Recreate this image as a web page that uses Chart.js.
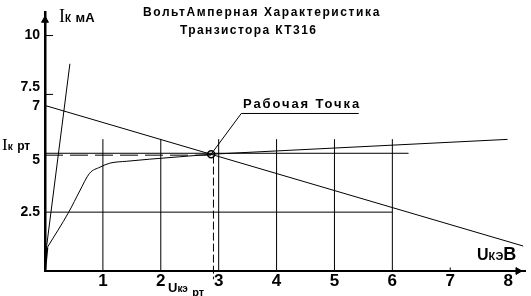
<!DOCTYPE html>
<html><head><meta charset="utf-8">
<script src="https://cdn.jsdelivr.net/npm/chart.js@4"></script>
<style>
html,body{margin:0;padding:0;background:#fff;}
#wrap{position:relative;width:531px;height:296px;overflow:hidden;background:#fff;}
canvas{position:absolute;left:0;top:0;}
.t{position:absolute;white-space:nowrap;font-family:"Liberation Sans",Arial,sans-serif;font-weight:bold;color:#000;line-height:1;}
.s{font-family:"Liberation Serif","Times New Roman",serif;font-weight:normal;}
</style></head><body>
<div id="wrap"><canvas id="c" width="531" height="296"></canvas>
<div class="t" style="left:143px;top:6px;font-size:12px;letter-spacing:1.6px">ВольтАмперная Характеристика</div>
<div class="t" style="left:180px;top:24px;font-size:12px;letter-spacing:1.4px">Транзистора КТ316</div>
<div class="t" style="left:59px;top:7px"><span class="s" style="font-size:18px">I</span><span style="font-size:10px">К</span> <span style="font-size:13px">мА</span></div>
<div class="t" style="left:2px;top:136px"><span class="s" style="font-size:17px">I</span><span style="font-size:10px">к</span> <span style="font-size:12px">рт</span></div>
<div class="t" style="left:243px;top:97px;font-size:13px;letter-spacing:1.9px">Рабочая Точка</div>
<div class="t" style="left:477px;top:245px"><span style="font-size:16px">U</span><span style="font-size:11px">КЭ</span><span style="font-size:18px">В</span></div>
<div class="t" style="left:168px;top:279px"><span style="font-size:13px">U</span><span style="font-size:10px">кэ</span> <span style="font-size:11px;position:relative;top:4px">рт</span></div>
</div>
<script>
// ---- data ----
const riseU = [0, 0.04];
const riseI = [0, 1.0];
const outU = [0.04, 0.41, 0.6, 0.77, 0.95, 1.12, 1.41, 1.81, 2.32, 2.87];
const outI = [1.0, 2.5, 3.4, 4.15, 4.41, 4.58, 4.66, 4.75, 4.85, 4.96];
const tailU = [2.87, 7.99];
const tailI = [4.96, 5.59];
const steepU = [0.02, 0.43];
const steepI = [0.9, 8.8];
const loadU = [0, 8.26];
const loadI = [7.03, 1.06];
const opU = [2.87];
const opI = [4.96];
const ikLineU = [0, 6.28];
const ikLineI = [5.0, 5.0];
const ikDashU = [0, 2.87];
const ikDashI = [4.92, 4.92];
const ukDashU = [2.91, 2.91];
const ukDashI = [4.9, -0.35];
const gridU = [1, 2, 3, 4, 5, 6];
const gridTop = 5.6;
const grid25U = [0, 6];
const grid25I = [2.5, 2.5];
const leaderU = [2.87, 3.39, 5.42];
const leaderI = [4.96, 6.69, 6.69];
const xTicks = [1, 2, 3, 4, 5, 6, 7, 8];
const yTicks = [2.5, 5, 7, 7.5, 10];
const yTickLabels = ['2.5', ['', '5'], '7', ['7.5', ''], '10'];
const yStubI = [10, 7.5];
const xStubU = [7];

function pts(xs, ys) { return xs.map((x, i) => ({x: x, y: ys[i]})); }
function line(xs, ys, extra) {
  return Object.assign({data: pts(xs, ys), showLine: true, borderColor: '#000', borderWidth: 1,
    pointRadius: 0, fill: false, tension: 0}, extra || {});
}
const datasets = [];
gridU.forEach(u => datasets.push(line([u, u], [0, gridTop])));
datasets.push(line(grid25U, grid25I));
datasets.push(line(ikLineU, ikLineI));
datasets.push(line(ikDashU, ikDashI, {borderDash: [18, 7]}));
datasets.push(line(ukDashU, ukDashI, {borderDash: [8, 3], clip: false}));
datasets.push(line(loadU, loadI));
datasets.push(line(steepU, steepI));
datasets.push(line(riseU, riseI, {borderWidth: 2}));
datasets.push(line(outU, outI, {cubicInterpolationMode: 'monotone'}));
datasets.push(line(tailU, tailI));
datasets.push(line(leaderU, leaderI));
yStubI.forEach(v => datasets.push(line([0, 0.14], [v, v])));
xStubU.forEach(u => datasets.push(line([u, u], [0, 0.15])));
datasets.push({data: pts(opU, opI), showLine: false, pointRadius: 3.5, pointBorderWidth: 1.5,
  pointBorderColor: '#000', pointBackgroundColor: '#fff'});
datasets.push({data: [{x: 0, y: 10.65}], showLine: false, pointStyle: 'triangle', pointRadius: 4,
  pointBorderColor: '#000', pointBackgroundColor: '#000', clip: false});
datasets.push({data: [{x: 8.17, y: 0}], showLine: false, pointStyle: 'triangle', pointRotation: 90, pointRadius: 4,
  pointBorderColor: '#000', pointBackgroundColor: '#000', clip: false});

new Chart(document.getElementById('c'), {
  type: 'scatter',
  data: {datasets: datasets},
  options: {
    responsive: false, animation: false, devicePixelRatio: 1,
    layout: {padding: {top: 11, right: 4, left: 0, bottom: 0}},
    plugins: {legend: {display: false}, tooltip: {enabled: false}},
    scales: {
      x: {
        type: 'linear', min: 0, max: 8.3,
        afterFit: s => { s.height = 25; },
        afterBuildTicks: s => { s.ticks = xTicks.map(v => ({value: v})); },
        grid: {display: true, drawOnChartArea: false, drawTicks: false},
        border: {display: true, color: '#000', width: 2},
        ticks: {color: '#000', padding: 0, autoSkip: false, maxRotation: 0,
          font: {family: '"Liberation Sans", Arial, sans-serif', size: 17, weight: 'bold'},
          callback: v => String(v)}
      },
      y: {
        type: 'linear', min: 0, max: 11,
        afterFit: s => { s.width = 45; },
        afterBuildTicks: s => { s.ticks = yTicks.map(v => ({value: v})); },
        grid: {display: true, drawOnChartArea: false, drawTicks: false},
        border: {display: true, color: '#000', width: 2.5},
        ticks: {color: '#000', padding: 5, autoSkip: false,
          font: {family: '"Liberation Sans", Arial, sans-serif', size: 14, weight: 'bold', lineHeight: 1},
          callback: v => yTickLabels[yTicks.indexOf(v)]}
      }
    }
  }
});
</script>
</body></html>
